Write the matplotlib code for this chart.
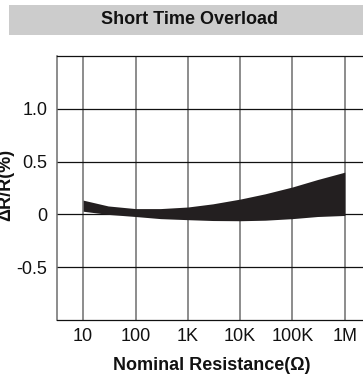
import matplotlib
matplotlib.use("Agg")
import matplotlib.pyplot as plt
from matplotlib.patches import Rectangle

plt.rcParams["font.family"] = ["Liberation Sans", "DejaVu Sans"]

# ── data ─────────────────────────────────────────────────────────────────────
resistance = [10, 30, 100, 300, 1e3, 3e3, 1e4, 3e4, 1e5, 3e5, 1e6]
upper = [0.135, 0.08, 0.055, 0.055, 0.07, 0.10, 0.145, 0.195, 0.26, 0.33, 0.40]
lower = [0.03, 0.0, -0.02, -0.04, -0.05, -0.058, -0.06, -0.055, -0.04, -0.02, -0.01]

xticks = [10, 100, 1e3, 1e4, 1e5, 1e6]
xticklabels = ["10", "100", "1K", "10K", "100K", "1M"]
yticks = [-0.5, 0, 0.5, 1.0]
yticklabels = ["-0.5", "0", "0.5", "1.0"]

TITLE = "Short Time Overload"
XLABEL = "Nominal Resistance(\u03a9)"
YLABEL = "\u0394R/R(%)"

W, H = 363, 380
fig = plt.figure(figsize=(W / 100, H / 100), dpi=100)

# grey title banner
fig.patches.append(Rectangle((9 / W, 1 - 35 / H), 1 - 9 / W, 30 / H,
                             transform=fig.transFigure, facecolor="#cccccc",
                             edgecolor="none", zorder=0))
fig.text(189 / W, 1 - 20 / H, TITLE, ha="center", va="center",
         fontsize=13, fontweight="bold", color="#111111")

ax = fig.add_axes([57 / W, 60 / H, 314 / W, 264 / H])
ax.fill_between(resistance, lower, upper, color="#231f20", lw=0, zorder=3)

ax.set_xscale("log")
ax.set_xlim(10 ** 0.5, 10 ** 6.5)
ax.set_ylim(-1.0, 1.5)
ax.set_xticks(xticks)
ax.set_xticklabels(xticklabels)
ax.set_xticks([], minor=True)
ax.set_yticks(yticks)
ax.set_yticklabels(yticklabels)
ax.tick_params(length=0, labelsize=13, colors="#111111")
ax.tick_params(axis="x", pad=6)
ax.tick_params(axis="y", pad=7)

for x in xticks:
    ax.axvline(x, color="#6e6e6e", lw=1.1, zorder=1)
for y in yticks:
    ax.axhline(y, color="#111111", lw=0.9, zorder=1)

ax.spines["right"].set_visible(False)
ax.spines["left"].set_color("#6e6e6e")
ax.spines["left"].set_linewidth(1.1)
ax.spines["top"].set_color("#111111")
ax.spines["bottom"].set_color("#111111")
ax.spines["top"].set_linewidth(0.9)
ax.spines["bottom"].set_linewidth(0.9)

fig.text(212 / W, 1 - 366 / H, XLABEL, ha="center", va="center",
         fontsize=13, fontweight="bold", color="#111111")
fig.text(6 / W, 1 - 185 / H, YLABEL, ha="center", va="center", rotation=90,
         fontsize=13, fontweight="bold", color="#111111")

fig.savefig("out.png", dpi=100, facecolor="white")
